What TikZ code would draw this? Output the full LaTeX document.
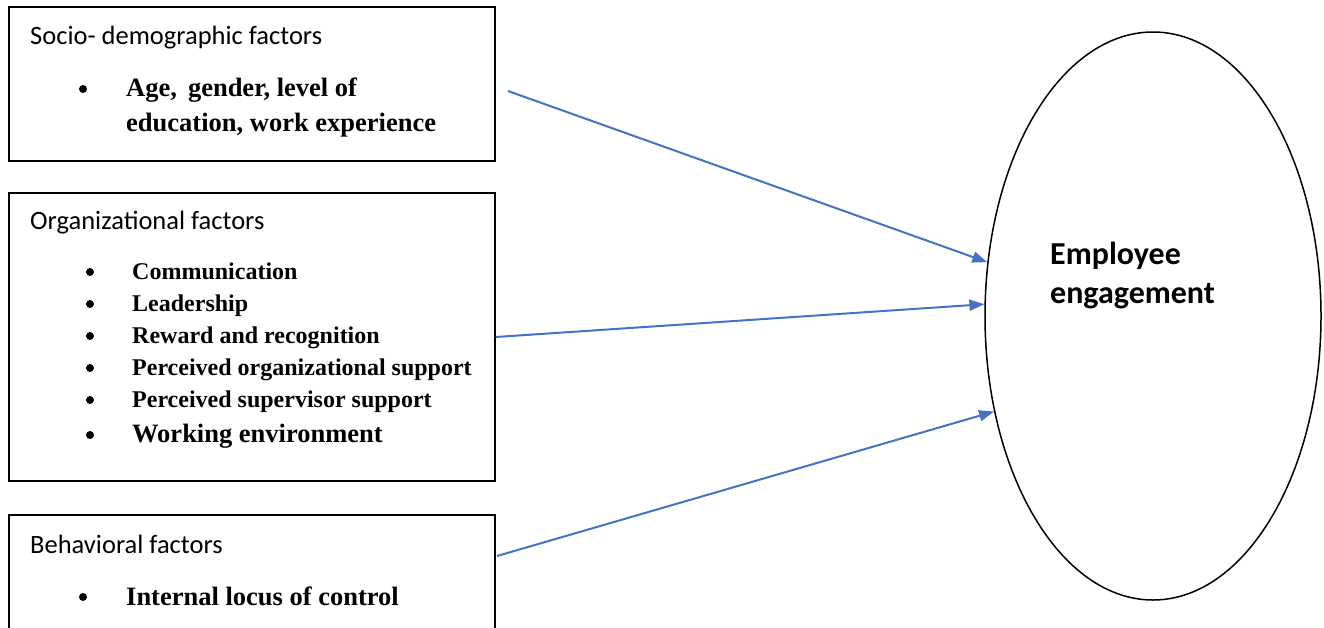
\documentclass[tikz,border=0pt]{standalone}
\usepackage{fontspec}
\setmainfont{Liberation Serif}
\newfontfamily\calibri{Carlito}
\usetikzlibrary{arrows.meta,shapes.geometric}
\definecolor{arrowblue}{HTML}{4472C4}

\begin{document}
\begin{tikzpicture}[x=1pt, y=-1pt,
    factor/.style={draw=black, line width=1.5pt, minimum width=486pt, inner sep=0pt},
    heading/.style={anchor=base west, inner sep=0pt, font=\calibri\fontsize{26.5}{30}\selectfont},
    item/.style={anchor=base west, inner sep=0pt, font=\bfseries\fontsize{26.5}{30}\selectfont},
    dot/.style={circle, fill=black, inner sep=0pt, minimum size=8pt},
    link/.style={draw=arrowblue, line width=2pt, -{Triangle[length=15pt,width=11pt]}}
]
    \useasboundingbox (0,0) rectangle (1324,627);
    \begin{scope}
    \clip (0,0) rectangle (1324,627);
    \node[factor, minimum height=154pt] (socio) at (252,84) {};
    \node[factor, minimum height=288pt] (org) at (252,337) {};
    \node[factor, minimum height=150pt] (beh) at (252,590) {};
    \end{scope}

    \node[heading] (socioT) at (30,44) {Socio- demographic factors};
    \node[dot] (b1) at (83,89) {};
    \node[item] (age) at (126,96) {Age,\, gender, level of};
    \node[item] (edu) at (126,131) {education, work experience};

    \node[heading] (orgT) at (30,229) {Organizational factors};
    \foreach \y/\txt [count=\i] in {279/Communication, 311/Leadership,
        343/Reward and recognition, 375/Perceived organizational support,
        407/Perceived supervisor support} {
        \node[dot] (ob\i) at (90,\y-7) {};
        \node[item, font=\bfseries\fontsize{24}{28}\selectfont] (oi\i) at (132,\y) {\txt};
    }
    \node[dot] (ob6) at (90,435) {};
    \node[item, font=\bfseries\fontsize{26.5}{30}\selectfont] (oi6) at (132,442) {Working environment};

    \node[heading] (behT) at (30,553) {Behavioral factors};
    \node[dot] (b3) at (83,597) {};
    \node[item] (locus) at (126,605) {Internal locus of control};

    \node[draw, ellipse, line width=1.5pt, minimum width=336pt, minimum height=568pt,
        inner sep=0pt] (eng) at (1153,316) {};
    \node[anchor=base west, inner sep=0pt, font=\calibri\bfseries\fontsize{32}{38}\selectfont]
        (engT1) at (1050,264) {Employee};
    \node[anchor=base west, inner sep=0pt, font=\calibri\bfseries\fontsize{32}{38}\selectfont]
        (engT2) at (1050,303) {engagement};

    \coordinate (s1) at (508,91);
    \coordinate (s3) at (497,556);
    \draw[link] (s1) -- (eng.162);
    \draw[link] (org.east) -- (eng.176);
    \draw[link] (s3) -- (eng.211);
\end{tikzpicture}
\end{document}
